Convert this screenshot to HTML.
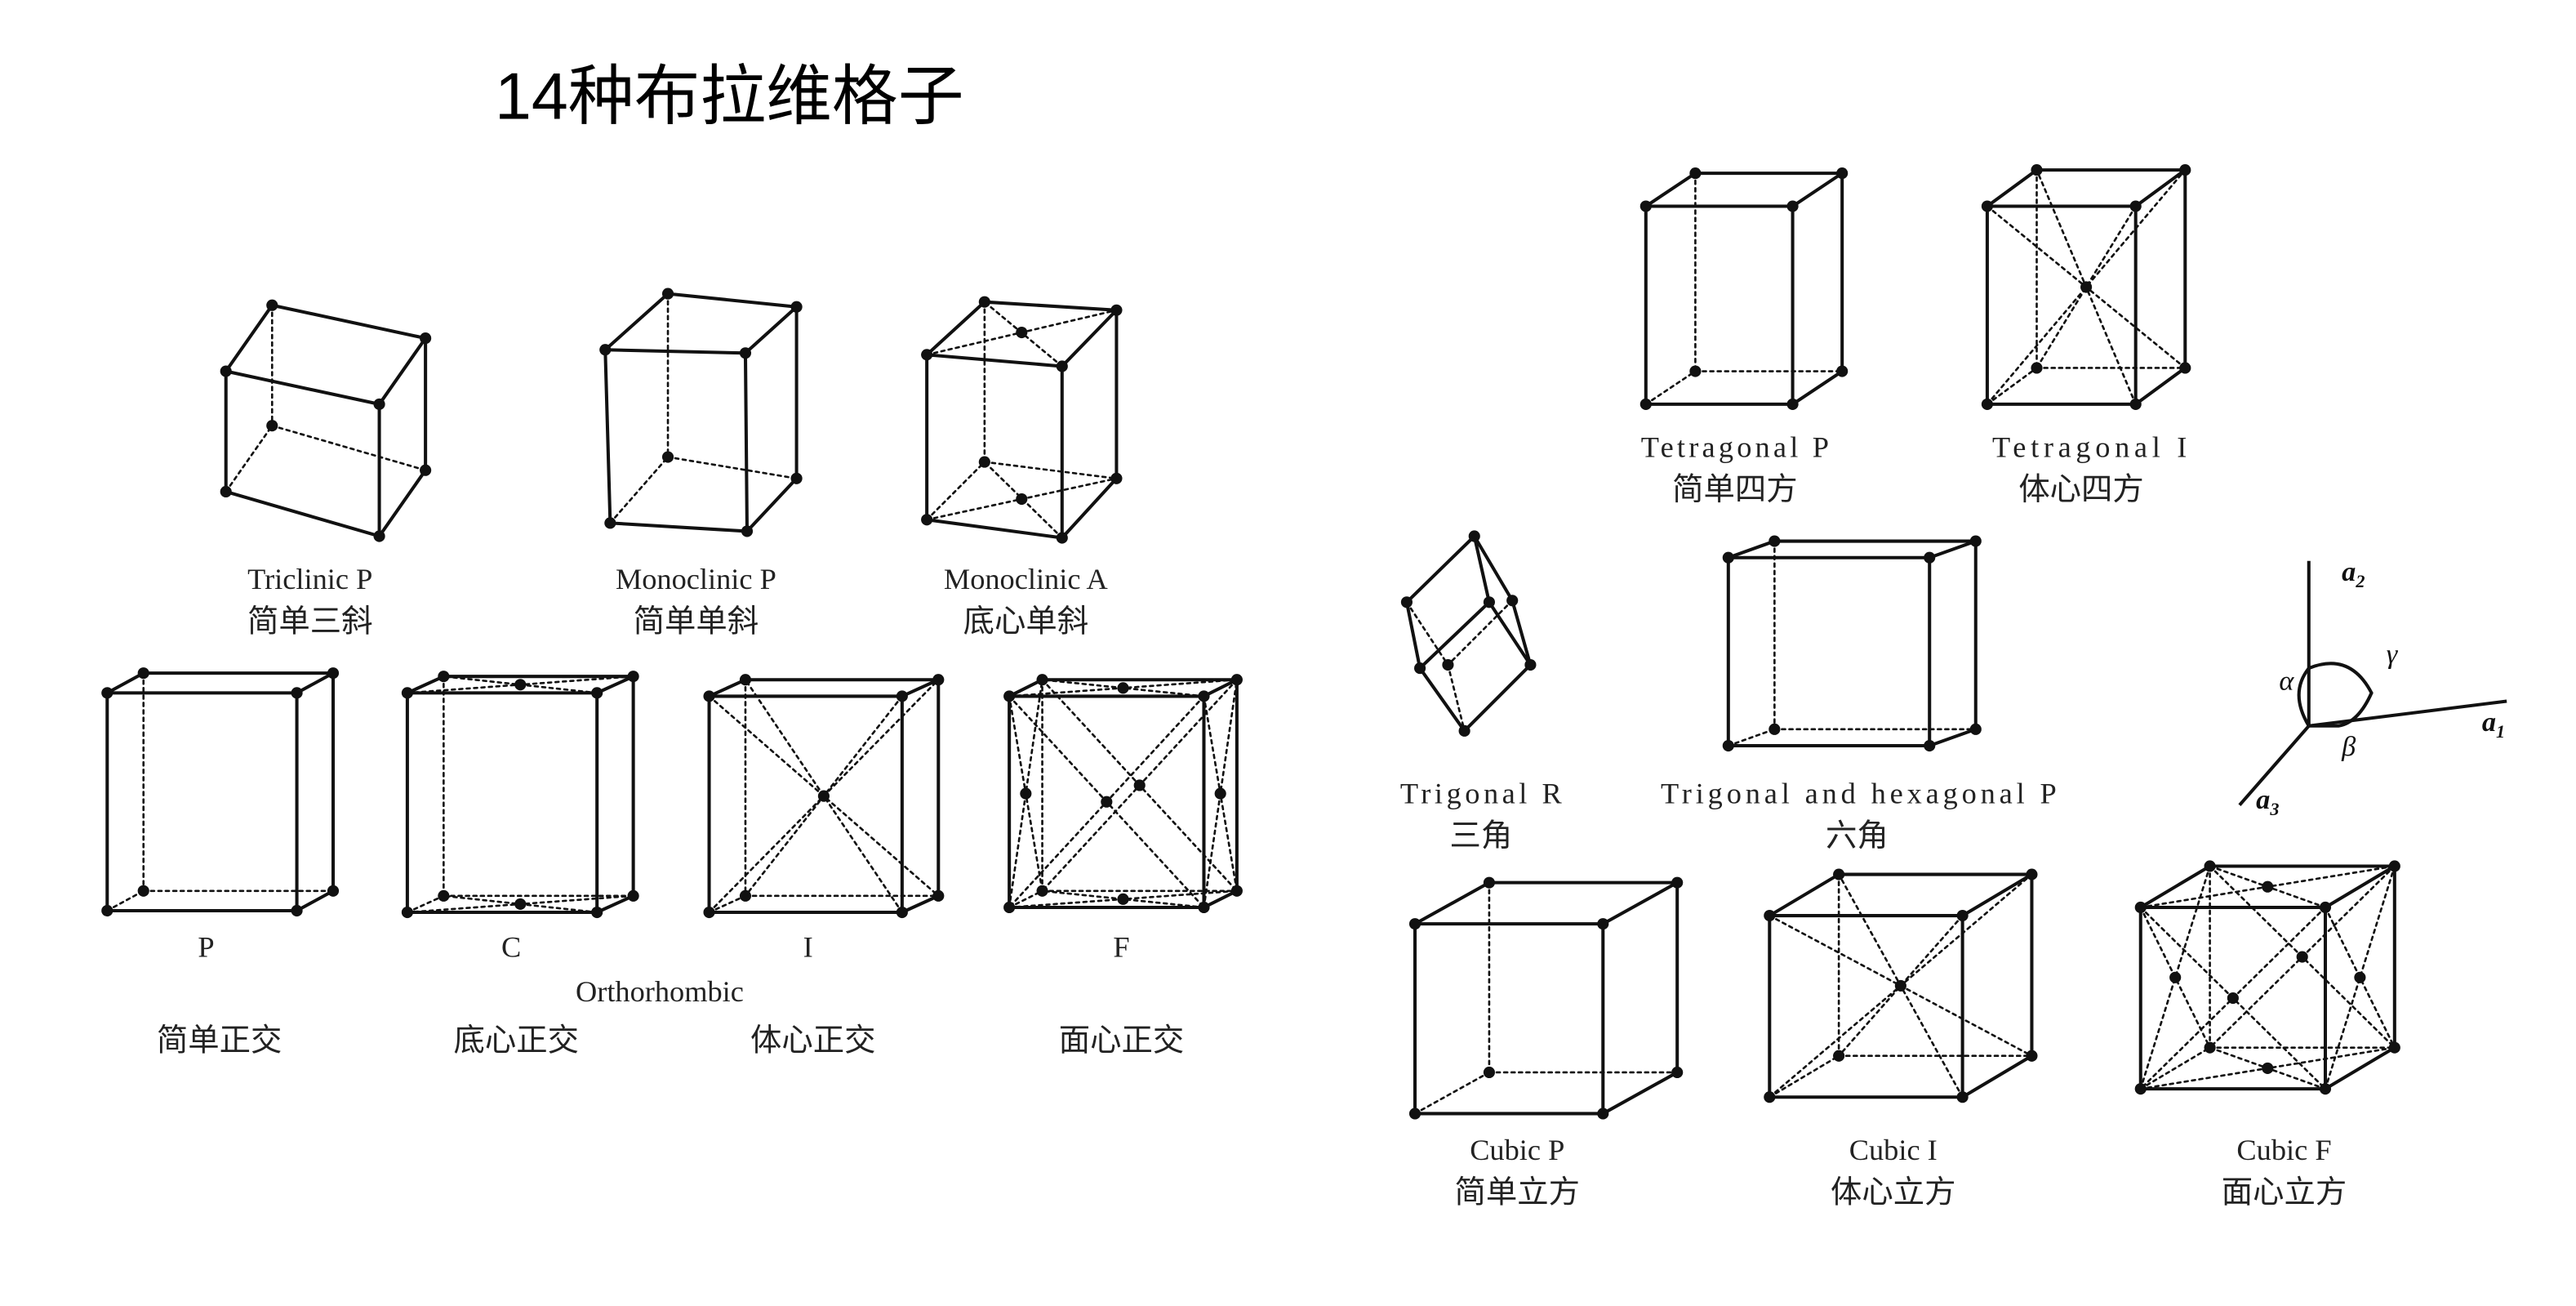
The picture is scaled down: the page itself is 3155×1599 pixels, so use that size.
<!DOCTYPE html>
<html><head><meta charset="utf-8"><style>
html,body{margin:0;padding:0;background:#fff;}
svg{display:block;}
.t{font-family:"Liberation Serif","Noto Serif CJK SC",serif;font-size:18px;fill:#222;text-anchor:middle;}
.c{font-family:"Liberation Serif","Noto Sans CJK SC",sans-serif;font-size:19px;fill:#222;text-anchor:middle;}
</style></head><body>
<svg id="s" width="3155" height="1599" viewBox="0 0 1562 791.6" xmlns="http://www.w3.org/2000/svg">
<text x="300" y="72" style="font-family:'Liberation Sans','Noto Sans CJK SC',sans-serif;font-size:40px;fill:#000">14种布拉维格子</text>
<g id="g" stroke="#111" fill="none" stroke-linecap="round"></g>
<g fill="#111" id="d"></g>
<text class="t" x="188" y="357">Triclinic P</text><text class="c" x="188" y="383">简单三斜</text>
<text class="t" x="422" y="357">Monoclinic P</text><text class="c" x="422" y="383">简单单斜</text>
<text class="t" x="622" y="357">Monoclinic A</text><text class="c" x="622" y="383">底心单斜</text>
<text class="t" x="125" y="580">P</text><text class="t" x="310" y="580">C</text><text class="t" x="490" y="580">I</text><text class="t" x="680" y="580">F</text>
<text class="t" x="400" y="607">Orthorhombic</text>
<text class="c" x="133" y="637">简单正交</text><text class="c" x="313" y="637">底心正交</text><text class="c" x="493" y="637">体心正交</text><text class="c" x="680" y="637">面心正交</text>
<text class="t" x="1052" y="277" textLength="114" lengthAdjust="spacing">Tetragonal P</text><text class="c" x="1052" y="303">简单四方</text>
<text class="t" x="1267" y="277" textLength="118" lengthAdjust="spacing">Tetragonal I</text><text class="c" x="1262" y="303">体心四方</text>
<text class="t" x="898" y="487" textLength="98" lengthAdjust="spacing">Trigonal R</text><text class="c" x="898" y="513">三角</text>
<text class="t" x="1127" y="487" textLength="240" lengthAdjust="spacing">Trigonal and hexagonal P</text><text class="c" x="1126" y="513">六角</text>
<text class="t" x="920" y="703">Cubic P</text><text class="c" x="920" y="729">简单立方</text>
<text class="t" x="1148" y="703">Cubic I</text><text class="c" x="1148" y="729">体心立方</text>
<text class="t" x="1385" y="703">Cubic F</text><text class="c" x="1385" y="729">面心立方</text>
<g stroke="#111" stroke-width="2" fill="none">
<line x1="1400" y1="440" x2="1400" y2="340"/><line x1="1400" y1="440" x2="1520" y2="425"/><line x1="1400" y1="440" x2="1358" y2="488"/>
<path d="M1400 405 Q1425 395 1438 420 Q1430 438 1418 440 L1400 440"/><path d="M1400 405 Q1388 420 1400 440"/>
</g>
<g style="font-family:'Liberation Serif',serif;font-style:italic;font-weight:bold;font-size:17px" fill="#111">
<text x="1420" y="352">a<tspan font-size="11" dy="4">2</tspan></text>
<text x="1505" y="443">a<tspan font-size="11" dy="4">1</tspan></text>
<text x="1368" y="490">a<tspan font-size="11" dy="4">3</tspan></text>
<text x="1382" y="418" font-weight="normal">α</text><text x="1447" y="402" font-weight="normal">γ</text><text x="1420" y="458" font-weight="normal">β</text>
</g>
</svg>
<script>
const G=document.getElementById('g'),D=document.getElementById('d');
function L(a,b,dash){const l=document.createElementNS('http://www.w3.org/2000/svg','line');l.setAttribute('x1',a[0]);l.setAttribute('y1',a[1]);l.setAttribute('x2',b[0]);l.setAttribute('y2',b[1]);l.setAttribute('stroke-width',dash?1.3:2);if(dash)l.setAttribute('stroke-dasharray','2,2.5');G.appendChild(l);}
function P(p,r){const c=document.createElementNS('http://www.w3.org/2000/svg','circle');c.setAttribute('cx',p[0]);c.setAttribute('cy',p[1]);c.setAttribute('r',r||3.5);D.appendChild(c);}
function M(a,b){return[(a[0]+b[0])/2,(a[1]+b[1])/2];}
function cube(f,b,type){
 for(let i=0;i<4;i++)L(f[i],f[(i+1)%4]);
 L(b[0],b[1]);L(b[1],b[2]);L(f[0],b[0]);L(f[1],b[1]);L(f[2],b[2]);
 L(b[0],b[3],1);L(b[3],b[2],1);L(f[3],b[3],1);
 [...f,...b].forEach(p=>P(p));
 const C=[(f[0][0]+b[2][0])/2,(f[0][1]+b[2][1])/2];
 if(type=='A'||type=='C'){L(f[0],b[1],1);L(f[1],b[0],1);L(f[3],b[2],1);L(f[2],b[3],1);P(M(f[0],b[1]));P(M(f[3],b[2]));}
 if(type=='I'){L(f[0],b[2],1);L(f[1],b[3],1);L(f[2],b[0],1);L(f[3],b[1],1);P(C);}
 if(type=='F'){
  const faces=[[f[0],f[1],f[2],f[3]],[b[0],b[1],b[2],b[3]],[f[0],f[1],b[1],b[0]],[f[3],f[2],b[2],b[3]],[f[0],f[3],b[3],b[0]],[f[1],f[2],b[2],b[1]]];
  faces.forEach(q=>{L(q[0],q[2],1);L(q[1],q[3],1);P(M(q[0],q[2]));});
 }
}
function box(x1,y1,x2,y2,dx,dy,t){cube([[x1,y1],[x2,y1],[x2,y2],[x1,y2]],[[x1+dx,y1+dy],[x2+dx,y1+dy],[x2+dx,y2+dy],[x1+dx,y2+dy]],t);}
cube([[137,225],[230,245],[230,325],[137,298]],[[165,185],[258,205],[258,285],[165,258]]);
cube([[367,212],[452,214],[453,322],[370,317]],[[405,178],[483,186],[483,290],[405,277]]);
cube([[562,215],[644,222],[644,326],[562,315]],[[597,183],[677,188],[677,290],[597,280]],'A');
box(65,420,180,552,22,-12);
box(247,420,362,553,22,-10,'C');
box(430,422,547,553,22,-10,'I');
box(612,422,730,550,20,-10,'F');
box(998,125,1087,245,30,-20);
box(1205,125,1295,245,30,-22,'I');
(function(){
 const T=[894,325],Lf=[853,365],Md=[903,365],R=[917,364],LL=[861,405],H=[878,403],LR=[928,403],B=[888,443];
 L(T,Lf);L(T,Md);L(T,R);L(Lf,LL);L(Md,LL);L(Md,LR);L(R,LR);L(LL,B);L(LR,B);
 L(Lf,H,1);L(R,H,1);L(H,B,1);
 [T,Lf,Md,R,LL,H,LR,B].forEach(p=>P(p));
})();
box(1048,338,1170,452,28,-10);
box(858,560,972,675,45,-25);
box(1073,555,1190,665,42,-25,'I');
box(1298,550,1410,660,42,-25,'F');
</script>
</body></html>
